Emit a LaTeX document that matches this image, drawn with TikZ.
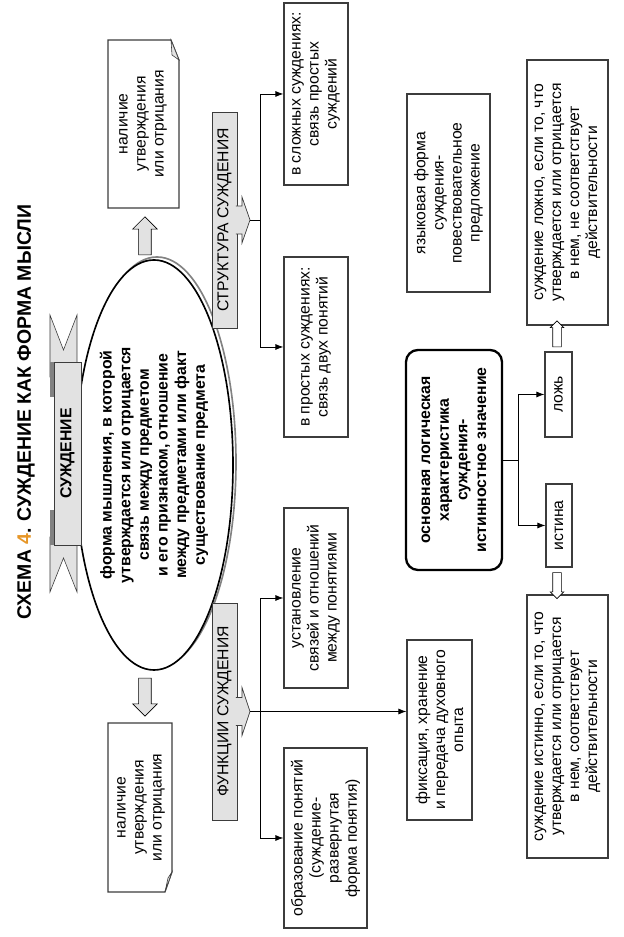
\documentclass[tikz,border=0pt]{standalone}
\usepackage{fontspec}
\setmainfont{Liberation Sans}
\usepackage{xcolor}
\usetikzlibrary{arrows.meta,calc,shapes.geometric,shapes.arrows}
\definecolor{schemaGray}{RGB}{60,60,60}
\definecolor{schemaFill}{RGB}{226,226,226}
\definecolor{schemaFold}{RGB}{130,130,130}
\definecolor{schemaOrange}{RGB}{230,150,40}
\tikzset{
  txt/.style={font=\fontsize{13.4}{15.4}\selectfont, align=center},
  plainbox/.style={txt, draw=schemaGray, line width=1pt, inner sep=2pt},
  notebox/.style={txt, inner sep=2pt},
  callout/.style={txt, draw=schemaGray, fill=schemaFill, line width=0.6pt, inner sep=0pt},
  bigarrow/.style={single arrow, draw=black, fill=schemaFill, line width=0.5pt,
    inner xsep=0pt, inner ysep=0.18cm, single arrow head extend=0.18cm, minimum height=1.14cm},
  smallarrow/.style={single arrow, draw=black, fill=white, line width=0.5pt,
    inner xsep=0pt, inner ysep=0.12cm, single arrow head extend=0.075cm, minimum height=0.78cm},
  link/.style={line width=0.7pt, -{Latex[length=2.4mm,width=1.8mm]}},
  stem/.style={line width=0.7pt}
}
\begin{document}
\begin{tikzpicture}[x=0.03cm, y=0.03cm, rotate=90, transform shape]
\useasboundingbox (0,0) rectangle (937,623);

\node[font=\bfseries\fontsize{16.6}{20}\selectfont] (title) at (525,597)
  {СХЕМА {\color{schemaOrange}4}. СУЖДЕНИЕ КАК ФОРМА МЫСЛИ};

% central ellipse with its shadow
\draw[schemaFold, line width=1.4pt] (475,466) ellipse [x radius=6.15cm, y radius=2.37cm];
\node[ellipse, draw, fill=white, line width=1.4pt, inner sep=0pt,
  minimum width=12.3cm, minimum height=4.74cm,
  font=\bfseries\fontsize{13.5}{15.9}\selectfont, align=center] (judg) at (472,469)
  {форма мышления, в которой\\утверждается или отрицается\\связь между предметом\\и его признаком, отношение\\между предметами или факт\\существование предмета};

% ribbon
\filldraw[draw=schemaGray, fill=schemaFill, line width=0.5pt]
  (400,546) -- (345,546) -- (379,559.5) -- (345,573) -- (400,573) -- cycle;
\filldraw[draw=schemaGray, fill=schemaFill, line width=0.5pt]
  (560,546) -- (622,546) -- (587,559.5) -- (622,573) -- (560,573) -- cycle;
\fill[schemaFold] (392,567) rectangle (427,573);
\fill[schemaFold] (540,567) rectangle (575,573);
\node[callout, font=\bfseries\fontsize{13.5}{15.9}\selectfont,
  minimum width=5.49cm, minimum height=0.81cm] (ribbon) at (483.5,555.5) {СУЖДЕНИЕ};

% notes with folded corner
\draw[schemaGray, line width=1pt] (729,444) -- (877,444) -- (897,452) -- (897,515) -- (729,515) -- cycle;
\filldraw[draw=schemaGray, fill=schemaFill, line width=0.5pt] (897,452) -- (877,444) -- (882,451) -- cycle;
\node[notebox] (affTop) at (813,480) {наличие\\утверждения\\или отрицания};
\draw[schemaGray, line width=1pt] (214,451) -- (65,451) -- (45,458) -- (45,515) -- (214,515) -- cycle;
\filldraw[draw=schemaGray, fill=schemaFill, line width=0.5pt] (45,458) -- (65,451) -- (59,455) -- cycle;
\node[notebox] (affBot) at (129.5,482) {наличие\\утверждения\\или отрицания};

\node[bigarrow] (arrUp) at (698,478) {};
\node[bigarrow, shape border rotate=180] (arrDown) at (243,478) {};

% structure
\node[callout, minimum width=6.48cm, minimum height=0.75cm] (struct) at (717,398.5) {СТРУКТУРА СУЖДЕНИЯ};
\filldraw[draw=schemaGray, fill=schemaFill, line width=0.6pt]
  (703,387) -- (703,381) -- (694,381) -- (717,373) coordinate (structTip)
  -- (740,381) -- (731,381) -- (731,387);
\node[plainbox, minimum width=5.4cm, minimum height=1.92cm] (simple) at (590,307)
  {в простых суждениях:\\связь двух понятий};
\node[plainbox, minimum width=5.46cm, minimum height=1.92cm] (complex) at (843,307)
  {в сложных суждениях:\\связь простых\\суждений};
\coordinate (structJ) at (717,363);
\draw[stem] (structTip) -- (structJ);
\draw[link] (structJ) -| (simple.north);
\draw[link] (structJ) -| (complex.north);

% functions
\node[callout, minimum width=6.51cm, minimum height=0.75cm] (funcs) at (225.5,398.5) {ФУНКЦИИ СУЖДЕНИЯ};
\filldraw[draw=schemaGray, fill=schemaFill, line width=0.6pt]
  (211.5,387) -- (211.5,381) -- (201.5,381) -- (225.5,373) coordinate (funcsTip)
  -- (249.5,381) -- (239.5,381) -- (239.5,387);
\node[plainbox, minimum width=5.4cm, minimum height=1.92cm] (relations) at (339,307)
  {установление\\связей и отношений\\между понятиями};
\node[plainbox, minimum width=5.4cm, minimum height=2.49cm] (concepts) at (99,297.5)
  {образование понятий\\(суждение-\\развернутая\\форма понятия)};
\node[plainbox, minimum width=5.4cm, minimum height=1.95cm] (fixing) at (207,183.5)
  {фиксация, хранение\\и передача духовного\\опыта};
\coordinate (funcsJ) at (225.5,363);
\draw[link] (funcsTip) -- (funcsTip |- fixing.north);
\draw[link] (funcsJ) -| (relations.north);
\draw[link] (funcsJ) -| (concepts.north);

% language and truth value
\node[plainbox, minimum width=5.94cm, minimum height=2.49cm] (language) at (744,174.5)
  {языковая форма\\суждения-\\повествовательное\\предложение};
\node[txt, draw=black, line width=2pt, rounded corners=0.36cm,
  minimum width=6.6cm, minimum height=2.88cm,
  font=\bfseries\fontsize{13.5}{15.9}\selectfont] (logic) at (477,169)
  {основная логическая\\характеристика\\суждения-\\истинностное значение};
\node[plainbox, minimum width=2.55cm, minimum height=0.81cm] (lozh) at (542.5,64.5) {ложь};
\node[plainbox, minimum width=2.49cm, minimum height=0.78cm] (istina) at (411.5,64) {истина};
\coordinate (logicJ) at (477,105);
\draw[stem] (logic.south) -- (logicJ);
\draw[link] (logicJ) -| (lozh.north);
\draw[link] (logicJ) -| (istina.north);

\node[plainbox, minimum width=7.95cm, minimum height=2.43cm] (falseBox) at (744.5,55.5)
  {суждение ложно, если то, что\\утверждается или отрицается\\в нем, не соответствует\\действительности};
\node[plainbox, minimum width=7.89cm, minimum height=2.43cm] (trueBox) at (210.5,55.5)
  {суждение истинно, если то, что\\утверждается или отрицается\\в нем, соответствует\\действительности};
\node[smallarrow] (arrFalse) at (601,66) {};
\node[smallarrow, shape border rotate=180] (arrTrue) at (353.5,66) {};
\end{tikzpicture}
\end{document}
